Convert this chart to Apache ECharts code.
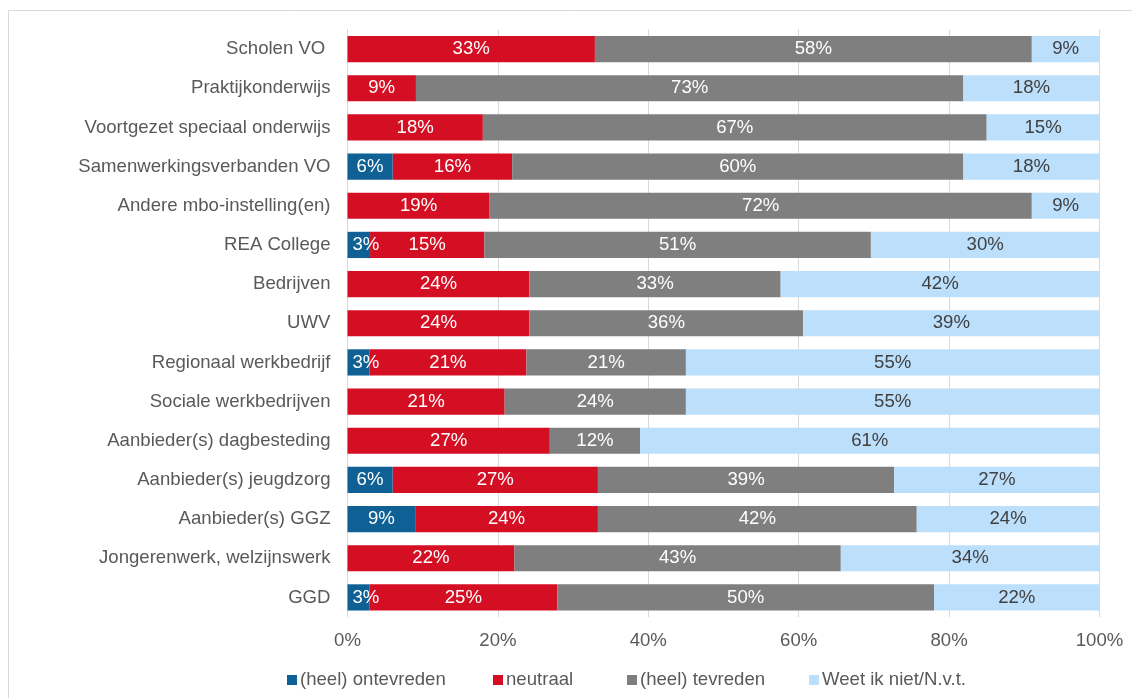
<!DOCTYPE html>
<html><head><meta charset="utf-8">
<script src="https://cdn.jsdelivr.net/npm/echarts@6/dist/echarts.min.js"></script>
<style>html,body{margin:0;padding:0;background:#fff}#c{width:1132px;height:698px}</style>
</head><body><div id="c"></div>
<script>
const categories = ["Scholen VO ","Praktijkonderwijs","Voortgezet speciaal onderwijs","Samenwerkingsverbanden VO","Andere mbo-instelling(en)","REA College","Bedrijven","UWV","Regionaal werkbedrijf","Sociale werkbedrijven","Aanbieder(s) dagbesteding","Aanbieder(s) jeugdzorg","Aanbieder(s) GGZ","Jongerenwerk, welzijnswerk","GGD"];
const seriesNames = ["(heel) ontevreden","neutraal","(heel) tevreden","Weet ik niet/N.v.t."];
const ontevreden = [0,0,0,6.0,0,3.0,0,0,2.9,0,0,6.0,9.0,0,2.9];
const neutraal   = [32.9,9.1,18.0,15.9,18.9,15.2,24.2,24.2,20.9,20.9,26.9,27.3,24.3,22.2,25.0];
const tevreden   = [58.1,72.8,67.0,60.0,72.1,51.4,33.4,36.4,21.2,24.1,12.0,39.4,42.4,43.4,50.1];
const weetNiet   = [9.0,18.1,15.0,18.1,9.0,30.4,42.4,39.4,55.0,55.0,61.1,27.3,24.3,34.4,22.0];
const xTicks = [0,20,40,60,80,100];

const colors = ["#0f6195","#d50f23","#7f7f7f","#bcdffc"];
const labelColors = ["#ffffff","#ffffff","#ffffff","#404040"];
const values = [ontevreden, neutraal, tevreden, weetNiet];
const FONT = "Liberation Sans, Arial, sans-serif";
const FS = 18.6;

const chart = echarts.init(document.getElementById('c'), null, {renderer:'canvas'});
const legendLefts = [287, 493, 627, 809];
chart.setOption({
  animation:false,
  backgroundColor:'#ffffff',
  graphic:[{type:'rect', shape:{x:8.5,y:10.5,width:1200,height:800}, style:{fill:'none',stroke:'#d9d9d9',lineWidth:1}, silent:true}],
  grid:{left:347.5, right:32.5, top:29.5, bottom:81, containLabel:false},
  legend: seriesNames.map((n,i)=>({
    data:[n], left:legendLefts[i], top:670.5, padding:0, icon:'rect', itemWidth:10, itemHeight:10,
    textStyle:{color:'#595959', fontSize:FS, fontFamily:FONT, padding:[0,0,0,-2]}, selectedMode:false
  })),
  xAxis:{type:'value', min:0, max:100, interval:20,
    axisLabel:{formatter: v => xTicks.includes(v) ? v+'%' : '', color:'#595959', fontSize:FS, fontFamily:FONT, margin:14},
    splitLine:{show:true, lineStyle:{color:'#d9d9d9', width:1}},
    axisLine:{show:false}, axisTick:{show:false}},
  yAxis:{type:'category', data:categories, inverse:true,
    axisLabel:{color:'#595959', fontSize:FS, fontFamily:FONT, margin:17},
    axisLine:{show:true, lineStyle:{color:'#d9d9d9'}}, axisTick:{show:false}},
  series: seriesNames.map((n,i)=>({
    name:n, type:'bar', stack:'total', barCategoryGap:'33%', z: 2 + (i === 0 ? 1 : 0),
    itemStyle:{color:colors[i]},
    label:{show:true, position:'inside', color:labelColors[i], fontSize:FS, fontFamily:FONT,
      formatter: p => p.value > 0 ? Math.round(p.value)+'%' : ''},
    data: values[i].map(v => (v > 0 && v < 4) ? {value:v, label:{position:'insideLeft', distance:5}} : v)
  }))
});
</script></body></html>
